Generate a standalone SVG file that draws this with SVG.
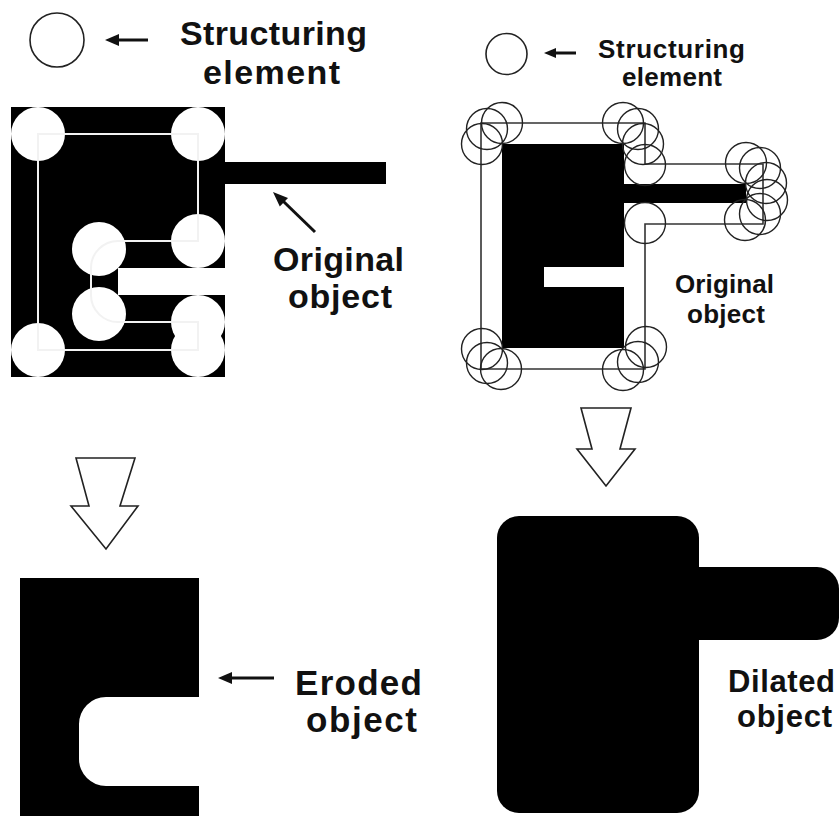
<svg xmlns="http://www.w3.org/2000/svg" width="839" height="816" viewBox="0 0 839 816">
  <defs>
    <style>
      .lbl { font-family: "Liberation Sans", Arial, Helvetica, sans-serif; font-weight: bold; fill: #111; }
      .solid { fill: #000; }
      .se { fill: none; stroke: #222; stroke-width: 1.6; }
      .probe { fill: none; stroke: #222; stroke-width: 1.4; }
      .hole { fill: #fff; }
      .trace { fill: none; stroke: #333; stroke-width: 1.6; }
      .hollow { fill: #fff; stroke: #222; stroke-width: 1.6; stroke-linejoin: miter; }
      .ptr { stroke: #111; stroke-width: 3; fill: none; }
      .tip { fill: #111; }
    </style>
    <!-- white probe disks for the erosion panel -->
    <g id="erodeDisks">
      <circle cx="38" cy="134" r="27"/>
      <circle cx="198" cy="134" r="27"/>
      <circle cx="198" cy="241" r="27"/>
      <circle cx="99" cy="249" r="27"/>
      <circle cx="99" cy="314" r="27"/>
      <circle cx="198" cy="322" r="27"/>
      <circle cx="198" cy="350" r="27"/>
      <circle cx="38" cy="350" r="27"/>
    </g>
    <clipPath id="diskClip">
      <use href="#erodeDisks"/>
    </clipPath>
    <path id="erodeTrace" d="M38,134 H198 V241 H118 A27,27 0 0 0 91,268 V295 A27,27 0 0 0 118,322 H198 V350 H38 Z"/>
  </defs>

  <rect width="839" height="816" fill="#fff"/>

  <!-- Erosion: structuring element + legend -->
  <g id="se-left">
    <circle class="se" cx="57" cy="40" r="27"/>
    <text class="lbl" x="180" y="45" font-size="34" textLength="187">Structuring</text>
    <text class="lbl" x="203" y="84" font-size="34" textLength="137">element</text>
  </g>

  <!-- Erosion: original object with probe disks -->
  <g id="original-left">
    <path class="solid" d="M11,107 H225 V162 H386 V184 H225 V268 H118 V295 H225 V377 H11 Z"/>
    <use href="#erodeDisks" class="hole"/>
    <use href="#erodeTrace" fill="none" stroke="#f2f2f2" stroke-width="2"/>
    <use href="#erodeTrace" fill="none" stroke="#222" stroke-width="2" clip-path="url(#diskClip)"/>
    <text class="lbl" x="273" y="271" font-size="34" textLength="131">Original</text>
    <text class="lbl" x="288" y="308" font-size="34" textLength="104">object</text>
  </g>

  <!-- Dilation: structuring element + legend -->
  <g id="se-right">
    <circle class="se" cx="506.5" cy="54" r="20.5"/>
    <text class="lbl" x="598" y="58" font-size="26" textLength="147">Structuring</text>
    <text class="lbl" x="622" y="86" font-size="26" textLength="100">element</text>
  </g>

  <!-- Dilation: original object with probe circles and swept outline -->
  <g id="original-right">
    <path class="solid" d="M502,144 H624 V184 H746 V203 H624 V267 H544 V287 H624 V348 H502 Z"/>
    <path class="trace" d="M481,123 H645 V164 H763 V224 H645 V369 H481 Z"/>
    <g class="probe">
      <circle cx="482" cy="144" r="20.5"/>
      <circle cx="487" cy="129" r="20.5"/>
      <circle cx="502" cy="123" r="20.5"/>
      <circle cx="623" cy="123" r="20.5"/>
      <circle cx="638" cy="129" r="20.5"/>
      <circle cx="643" cy="144" r="20.5"/>
      <circle cx="645" cy="165" r="20.5"/>
      <circle cx="746" cy="163" r="20.5"/>
      <circle cx="760" cy="168" r="20.5"/>
      <circle cx="766" cy="183" r="20.5"/>
      <circle cx="767" cy="200" r="20.5"/>
      <circle cx="760" cy="214" r="20.5"/>
      <circle cx="745" cy="220" r="20.5"/>
      <circle cx="645" cy="223" r="20.5"/>
      <circle cx="482" cy="349" r="20.5"/>
      <circle cx="487" cy="363" r="20.5"/>
      <circle cx="501" cy="369" r="20.5"/>
      <circle cx="623" cy="370" r="20.5"/>
      <circle cx="638" cy="362" r="20.5"/>
      <circle cx="646" cy="347" r="20.5"/>
    </g>
    <text class="lbl" x="675" y="293" font-size="26" textLength="99">Original</text>
    <text class="lbl" x="687" y="323" font-size="26" textLength="78">object</text>
  </g>

  <!-- Results -->
  <g id="eroded">
    <path class="solid" d="M20,578 H199 V697 H106 A27,27 0 0 0 79,724 V759 A27,27 0 0 0 106,786 H199 V816 H20 Z"/>
    <text class="lbl" x="295" y="695" font-size="35" textLength="127">Eroded</text>
    <text class="lbl" x="306" y="732" font-size="35" textLength="111">object</text>
  </g>

  <g id="dilated">
    <rect class="solid" x="497" y="516" width="202" height="297" rx="22"/>
    <path class="solid" d="M690,567 H817 A22,22 0 0 1 839,589 V618 A22,22 0 0 1 817,640 H690 Z"/>
    <text class="lbl" x="728" y="692" font-size="31" textLength="107">Dilated</text>
    <text class="lbl" x="737" y="727" font-size="31" textLength="95">object</text>
  </g>

  <!-- Connectors: pointer arrows and operation arrows -->
  <g id="connectors">
    <line class="ptr" x1="148" y1="40" x2="116" y2="40"/>
    <polygon class="tip" points="105,40 119,34 119,46"/>
    <line class="ptr" x1="576" y1="53" x2="552" y2="53" stroke-width="2.6"/>
    <polygon class="tip" points="544,53 556,48 556,58"/>
    <line class="ptr" x1="315" y1="232" x2="283" y2="201"/>
    <polygon class="tip" points="273,192 279.8,206.6 288,198"/>
    <line class="ptr" x1="274" y1="678" x2="229" y2="678"/>
    <polygon class="tip" points="218,678 232,672 232,684"/>
    <polygon class="hollow" points="76,458 89,506 71,506 106,549 138,506 120,506 135,458"/>
    <polygon class="hollow" points="581,408 592,449 577,449 606,486 635,449 620,449 631,408"/>
  </g>
</svg>
